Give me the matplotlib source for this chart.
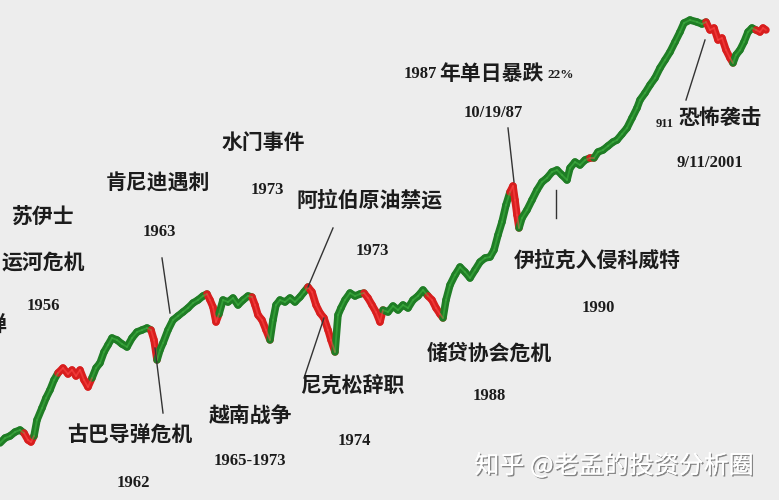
import matplotlib
matplotlib.use("Agg")
import matplotlib.pyplot as plt
import matplotlib.patheffects as pe
from matplotlib.collections import LineCollection
import numpy as np

# time position (0..779 across the chart) and index level (0..500, up)
t = [0, 5, 10, 15, 20, 24, 28, 31, 34, 37, 42, 46, 50, 54, 58, 63, 68, 72, 76, 80,
     84, 88, 92, 96, 100, 104, 108, 112, 117, 122, 127, 132, 137, 142, 147, 151, 154,
     157, 160, 163, 168, 173, 178, 183, 188, 193, 198, 203, 207, 210, 213, 216, 219,
     223, 228, 233, 238, 243, 248, 252, 255, 258, 262, 266, 270, 273, 276, 280, 285,
     290, 295, 300, 304, 308, 312, 316, 320, 324, 328, 331, 335, 338, 341, 345, 350,
     355, 360, 364, 368, 372, 376, 380, 383, 388, 393, 398, 403, 408, 413, 418, 423,
     428, 432, 436, 440, 443, 446, 450, 455, 460, 465, 470, 475, 480, 485, 490, 494,
     498, 502, 506, 510, 513, 515, 517, 519, 522, 527, 532, 537, 542, 547, 552, 557,
     562, 567, 570, 575, 580, 585, 590, 594, 598, 603, 608, 613, 617, 622, 627, 632,
     637, 640, 645, 650, 655, 660, 665, 670, 675, 680, 684, 690, 697, 702, 706, 710,
     714, 718, 722, 726, 730, 733, 736, 740, 744, 748, 752, 756, 760, 763, 766]
y_px = [443, 438, 436, 432, 430, 433, 440, 442, 436, 420, 408, 398, 390, 380, 373, 368,
        374, 370, 376, 370, 380, 387, 378, 368, 363, 352, 345, 338, 340, 344, 347, 338,
        332, 330, 328, 330, 340, 360, 350, 343, 330, 320, 316, 312, 308, 303, 300, 296,
        294, 300, 307, 322, 314, 300, 302, 298, 305, 300, 296, 297, 305, 315, 320, 330,
        340, 320, 305, 300, 302, 298, 302, 297, 292, 287, 292, 305, 313, 318, 330, 340,
        352, 315, 308, 300, 293, 296, 294, 293, 298, 305, 312, 322, 310, 312, 306, 310,
        305, 308, 300, 296, 290, 296, 300, 308, 314, 318, 300, 285, 275, 267, 272, 278,
        270, 262, 258, 257, 250, 235, 222, 205, 192, 186, 200, 215, 228, 218, 210, 200,
        190, 182, 178, 172, 170, 175, 180, 168, 162, 165, 160, 158, 158, 152, 150, 146,
        142, 140, 134, 128, 118, 108, 100, 93, 85, 78, 68, 60, 52, 42, 32, 23, 20, 22,
        24, 22, 30, 28, 40, 38, 50, 58, 63, 55, 50, 42, 32, 28, 30, 32, 28, 30]
level = [500 - v for v in y_px]

# falling periods drawn in red
red_periods = [(25, 35), (57, 90), (150, 158), (207, 218), (253, 271), (310, 336),
               (364, 382), (428, 444), (511, 520), (589, 595), (705, 734), (757, 767)]

# annotations: (label, x, level)
events = [
    ("苏伊士", 43, 283), ("运河危机", 43, 237),
    ("肯尼迪遇刺", 158, 317), ("水门事件", 263, 358),
    ("阿拉伯原油禁运", 370, 300), ("伊拉克入侵科威特", 597, 240),
    ("储贷协会危机", 489, 147), ("尼克松辞职", 352, 115),
    ("越南战争", 250, 85), ("古巴导弹危机", 130, 65),
]
years = [
    ("1956", 43, 194), ("1963", 159, 268), ("1973", 267, 310), ("1973", 372, 249),
    ("10/19/87", 493, 387), ("9/11/2001", 710, 337), ("1990", 598, 192),
    ("1988", 489, 104), ("1974", 354, 59), ("1965-1973", 250, 39), ("1962", 133, 17),
]
pointers = [((162, 242), (170, 187)), ((155, 152), (163, 87)), ((333, 272), (308, 213)),
            ((324, 182), (304, 122)), ((508, 372), (514, 318)), ((556, 310), (556, 282)),
            ((705, 460), (686, 400))]

bg = "#ededed"
fig = plt.figure(figsize=(7.79, 5.00), dpi=100, facecolor=bg)
ax = fig.add_axes([0, 0, 1, 1])
ax.set_facecolor(bg)
ax.set_xlim(0, 779)
ax.set_ylim(0, 500)
ax.axis("off")

pts = np.column_stack([t, level])
segs = np.stack([pts[:-1], pts[1:]], axis=1)
cols = []
for i in range(len(t) - 1):
    m = 0.5 * (t[i] + t[i + 1])
    red = any(a <= m <= b for a, b in red_periods)
    cols.append("#d81e1e" if red else "#1f7d25")
lc = LineCollection(segs, colors=cols, linewidths=5.4, capstyle="round", joinstyle="round")
ax.add_collection(lc)
cols2 = ["#ff4a4a" if c == "#d81e1e" else "#45b845" for c in cols]
lc2 = LineCollection(segs, colors=cols2, linewidths=1.3, capstyle="round", alpha=0.55)
ax.add_collection(lc2)

for (x0, y0), (x1, y1) in pointers:
    ax.plot([x0, x1], [y0, y1], color="#333333", lw=1.0)

cjk = ["Noto Sans CJK SC", "DejaVu Sans"]
tc = "#1c1c1c"
for s, x, y in events:
    ax.text(x, y, s, ha="center", va="center", fontsize=15, family=cjk,
            color=tc, fontweight="bold")
for s, x, y in years:
    ax.text(x, y, s, ha="center", va="center", fontsize=12, family="Liberation Serif",
            color=tc, fontweight="bold")

# clipped character at the left edge
ax.text(-4, 175, "弹", ha="center", va="center", fontsize=15, family=cjk, color=tc,
        fontweight="bold")

# 1987 headline with mixed fonts
ax.text(437, 426, "1987", ha="right", va="center", fontsize=12, family="Liberation Serif",
        color=tc, fontweight="bold")
ax.text(439, 427, "年单日暴跌", ha="left", va="center", fontsize=15, family=cjk, color=tc,
        fontweight="bold")
ax.text(548, 425, "22%", ha="left", va="center", fontsize=9.5, family="Liberation Serif",
        color=tc, fontweight="bold")

# 911 headline
ax.text(656, 376, "911", ha="left", va="center", fontsize=9, family="Liberation Serif",
        color=tc, fontweight="bold")
ax.text(678, 383, "恐怖袭击", ha="left", va="center", fontsize=15, family=cjk, color=tc,
        fontweight="bold")

# watermark
ax.text(614, 34, "知乎 @老孟的投资分析圈", ha="center", va="center", fontsize=18,
        family=cjk, color="white",
        path_effects=[pe.withSimplePatchShadow(offset=(1, -1), shadow_rgbFace="#7a7a7a", alpha=0.9),
                      pe.Normal()])

fig.savefig("out.png", dpi=100, facecolor=bg)
